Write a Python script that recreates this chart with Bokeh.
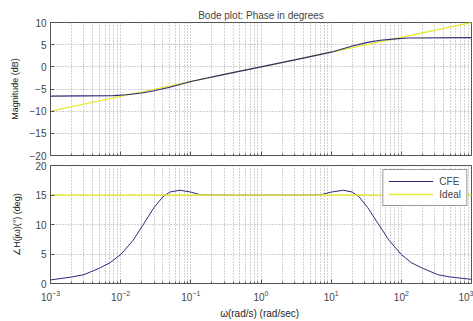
from bokeh.plotting import figure
from bokeh.layouts import column
from bokeh.models import FixedTicker, Legend, LegendItem, Range1d, CustomJSTickFormatter
from bokeh.embed import file_html
from bokeh.resources import INLINE

# ---- data ----
mag_w = [1e-3, 8e-3, 1.2e-2, 2e-2, 3e-2, 5e-2, 1e-1, 0.3, 1, 3.3, 10, 20, 33, 50, 83, 125, 1e3]
mag_cfe = [-6.6, -6.5, -6.3, -5.9, -5.4, -4.6, -3.3, -1.7, 0.0, 1.7, 3.3, 4.7, 5.5, 6.0, 6.3, 6.5, 6.6]
ideal_w = [1e-3, 1e3]
ideal_mag = [-10.0, 10.0]

ph_w = [1e-3, 2e-3, 3e-3, 5e-3, 7e-3, 1e-2, 1.5e-2, 2e-2, 3e-2, 4e-2, 5e-2, 7e-2, 1e-1, 1.3e-1,
        0.2, 0.5, 1, 2, 5, 7.5, 10, 15, 20, 25, 33, 50, 67, 100, 140, 200, 330, 500, 1e3]
ph_cfe = [0.6, 1.1, 1.5, 2.6, 3.5, 4.9, 7.3, 9.6, 12.9, 14.7, 15.5, 15.8, 15.5, 15.1,
          15.0, 15.0, 15.0, 15.0, 15.0, 15.1, 15.5, 15.8, 15.5, 14.7, 12.9, 9.6, 7.3, 4.9, 3.5, 2.6, 1.5, 1.1, 0.7]
ideal_ph = [15.0, 15.0]

x_major = [1e-3, 1e-2, 1e-1, 1, 10, 100, 1000]
x_minor = [k * 10.0 ** e for e in range(-3, 3) for k in range(2, 10)]
mag_ticks = [-20, -15, -10, -5, 0, 5, 10]
ph_ticks = [0, 5, 10, 15, 20]

CFE_COLOR = "#2b2b7a"
IDEAL_COLOR = "#e8e83c"
FONT = "Liberation Sans"
GRID = "#a0a0a0"


def style(p, yticks):
    p.xaxis.ticker = FixedTicker(ticks=x_major, minor_ticks=x_minor)
    p.yaxis.ticker = FixedTicker(ticks=yticks, minor_ticks=[])
    for ax in (p.xaxis, p.yaxis):
        ax.major_tick_in = 4
        ax.major_tick_out = 0
        ax.minor_tick_in = 2
        ax.minor_tick_out = 0
        ax.axis_line_color = "#555555"
        ax.major_tick_line_color = "#555555"
        ax.minor_tick_line_color = "#555555"
        ax.major_label_text_font = FONT
        ax.major_label_text_font_size = "10px"
        ax.major_label_text_color = "#444444"
        ax.axis_label_text_font = FONT
        ax.axis_label_text_font_size = "9px"
        ax.axis_label_text_font_style = "normal"
        ax.axis_label_text_color = "#222222"
    p.yaxis.major_label_standoff = 4
    p.xgrid.grid_line_color = GRID
    p.xgrid.grid_line_dash = "1 2"
    p.xgrid.minor_grid_line_color = GRID
    p.xgrid.minor_grid_line_dash = "1 2"
    p.ygrid.grid_line_color = GRID
    p.ygrid.grid_line_dash = "1 2"
    p.outline_line_color = "#555555"
    p.background_fill_color = "white"
    p.border_fill_color = "white"


top = figure(x_axis_type="log", frame_width=421, frame_height=133,
             min_border_left=50, min_border_right=2, min_border_top=22, min_border_bottom=4,
             x_range=Range1d(1e-3, 1e3), y_range=Range1d(-20, 10),
             output_backend="svg", toolbar_location=None,
             title="Bode plot: Phase in degrees")
top.title.align = "center"
top.title.text_font = FONT
top.title.text_font_size = "10px"
top.title.text_font_style = "normal"
top.title.standoff = 4
top.title.offset = 0
style(top, mag_ticks)
top.xaxis.formatter = CustomJSTickFormatter(code="return ' ';")
top.xaxis.major_label_text_font_size = "2px"
top.xaxis.major_label_standoff = 0
top.yaxis.axis_label = "Magnitude (dB)"
top.yaxis.axis_label_standoff = 7
top.line(ideal_w, ideal_mag, line_color=IDEAL_COLOR, line_width=1.3)
top.line(mag_w, mag_cfe, line_color=CFE_COLOR, line_width=1.2)

bot = figure(x_axis_type="log", frame_width=421, frame_height=118,
             min_border_left=50, min_border_right=2, min_border_top=5, min_border_bottom=39,
             x_range=Range1d(1e-3, 1e3), y_range=Range1d(0, 20),
             output_backend="svg", toolbar_location=None)
style(bot, ph_ticks)
bot.yaxis.axis_label = "∠H(jω)(°) (deg)"
bot.yaxis.axis_label_standoff = 10
bot.xaxis.axis_label = "ω(rad/s)  (rad/sec)"
bot.xaxis.axis_label_text_font_size = "10px"
bot.xaxis.major_label_standoff = 6
bot.xaxis.axis_label_standoff = 4
r1 = bot.line(ph_w, ph_cfe, line_color=CFE_COLOR, line_width=1.0)
r2 = bot.line(ideal_w, ideal_ph, line_color=IDEAL_COLOR, line_width=1.5)
leg = Legend(items=[LegendItem(label="CFE", renderers=[r1]),
                    LegendItem(label="Ideal", renderers=[r2])],
             location="top_right")
leg.margin = 4
leg.padding = 5
leg.spacing = 1
leg.glyph_width = 45
leg.glyph_height = 12
leg.label_standoff = 6
leg.label_text_font = FONT
leg.label_text_font_size = "10px"
leg.label_height = 12
leg.border_line_color = "#333333"
leg.background_fill_alpha = 1.0
bot.add_layout(leg)

layout = column(top, bot, spacing=0)
open("out.html", "w").write(file_html(layout, INLINE))
